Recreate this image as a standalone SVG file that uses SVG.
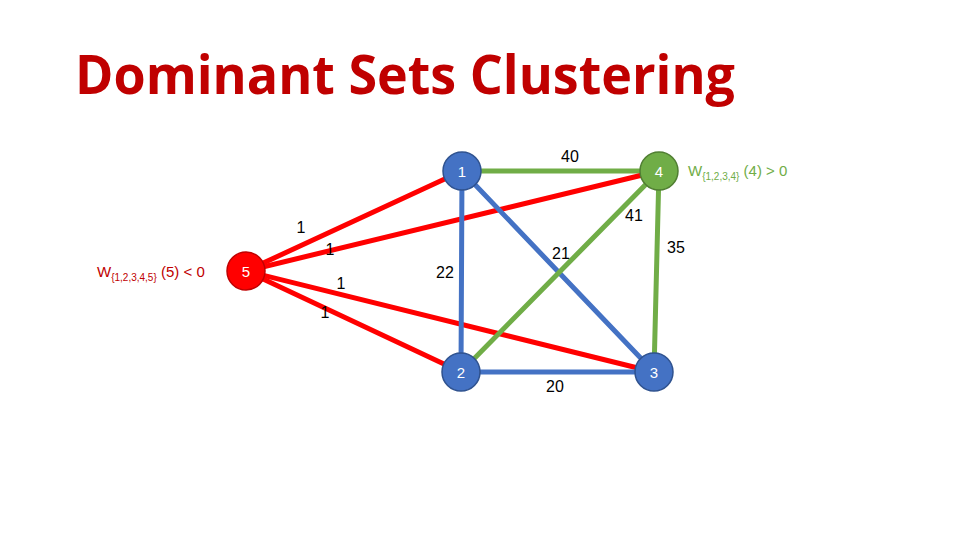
<svg xmlns="http://www.w3.org/2000/svg" width="960" height="540" viewBox="0 0 960 540">
<style>
text{font-family:"Liberation Sans","DejaVu Sans",sans-serif}
.e{stroke-width:5;stroke-linecap:round}
.r{stroke:#FF0000}.b{stroke:#4472C4}.g{stroke:#70AD47}
.nb{fill:#4472C4;stroke:#2F528F;stroke-width:1.5}
.ng{fill:#70AD47;stroke:#507E32;stroke-width:1.5}
.nr{fill:#FF0000;stroke:#C00000;stroke-width:1.5}
.nt{fill:#fff;font-size:15px;text-anchor:middle}
.l{fill:#000;font-size:16px;text-anchor:middle}
</style>
<rect width="960" height="540" fill="#fff"/>
<text x="75" y="94" font-size="54" font-weight="bold" fill="#C00000" textLength="660" lengthAdjust="spacingAndGlyphs" style="font-family:'Open Sans','Liberation Sans',sans-serif">Dominant Sets Clustering</text>
<g id="connectors">
<line class="e g" x1="462" y1="171" x2="659" y2="171"/>
<line class="e r" x1="246" y1="271" x2="462" y2="171"/>
<line class="e r" x1="246" y1="271" x2="659" y2="171"/>
<line class="e r" x1="246" y1="271" x2="654" y2="372"/>
<line class="e r" x1="246" y1="271" x2="461" y2="372"/>
<line class="e b" x1="462" y1="171" x2="461" y2="372"/>
<line class="e b" x1="462" y1="171" x2="654" y2="372"/>
<line class="e g" x1="659" y1="171" x2="461" y2="372"/>
<line class="e g" x1="659" y1="171" x2="654" y2="372"/>
<line class="e b" x1="461" y1="372" x2="654" y2="372"/>
</g>
<g id="labels">
<text class="l" x="301" y="233">1</text>
<text class="l" x="330" y="255">1</text>
<text class="l" x="341" y="289">1</text>
<text class="l" x="325" y="318">1</text>
<text class="l" x="570" y="162">40</text>
<text class="l" x="634" y="221">41</text>
<text class="l" x="561" y="259">21</text>
<text class="l" x="445" y="278">22</text>
<text class="l" x="676" y="253">35</text>
<text class="l" x="555" y="392">20</text>
</g>
<g id="n1"><circle class="nb" cx="462" cy="171" r="19"/><text class="nt" x="462" y="177">1</text></g>
<g id="n4"><circle class="ng" cx="659" cy="171" r="19"/><text class="nt" x="659" y="177">4</text></g>
<g id="n5"><circle class="nr" cx="246" cy="271" r="19"/><text class="nt" x="246" y="277">5</text></g>
<g id="n2"><circle class="nb" cx="461" cy="372" r="19"/><text class="nt" x="461" y="378">2</text></g>
<g id="n3"><circle class="nb" cx="654" cy="372" r="19"/><text class="nt" x="654" y="378">3</text></g>
<text x="97" y="277" font-size="15" fill="#C00000">W<tspan font-size="10" dy="4">{1,2,3,4,5}</tspan><tspan dy="-4"> (5) &lt; 0</tspan></text>
<text x="688" y="176" font-size="15" fill="#70AD47">W<tspan font-size="10" dy="4">{1,2,3,4}</tspan><tspan dy="-4"> (4) &gt; 0</tspan></text>
</svg>
